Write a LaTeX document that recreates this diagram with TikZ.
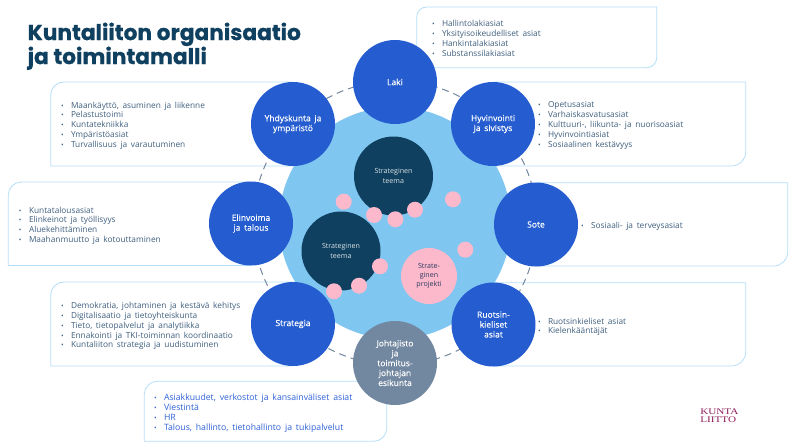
\documentclass[tikz,border=0pt]{standalone}
\usepackage{fontspec}
\setmainfont{Open Sans}[WordSpace=1.7]
\newfontfamily\mediumfont{Open Sans}[WordSpace=1.7,FakeBold=0.25]
\newfontfamily\titlefont{Poppins}[BoldFeatures={FakeBold=0.6}]
\newfontfamily\logofont{Liberation Serif}
\definecolor{inkblue}{HTML}{3F5F7E}
\definecolor{listblue}{HTML}{2F62D8}
\definecolor{roundblue}{HTML}{255DD0}
\definecolor{skyblue}{HTML}{7FC6F0}
\definecolor{frameblue}{HTML}{B5DFF9}
\definecolor{navy}{HTML}{10405F}
\definecolor{rosepink}{HTML}{FDB9CC}
\definecolor{slategrey}{HTML}{7287A0}
\definecolor{plum}{HTML}{8E1B5A}
\newcommand{\li}[1]{\makebox[10.8pt][l]{\hspace{0.8pt}\scriptsize\textbullet}#1\\}
\tikzset{
  unit/.style={circle,fill=roundblue,minimum size=84pt,inner sep=0pt,align=center,text=white,font=\mediumfont\fontsize{8.5}{9.9}\selectfont},
  theme/.style={circle,fill=navy,minimum size=79pt,inner sep=0pt,align=center,text=white!85!navy,font=\fontsize{7.1}{9.2}\selectfont},
  dot/.style={circle,fill=rosepink,minimum size=16pt,inner sep=0pt},
  frame/.style={draw=frameblue,line width=0.8pt,fill=white},
  duties/.style={anchor=north west,inner sep=0pt,align=left,text=inkblue,font=\fontsize{8.3}{9.85}\selectfont},
}
\begin{document}
\begin{tikzpicture}[x=1pt,y=-1pt]
	\useasboundingbox (0,0) rectangle (790,444);
	\fill[white] (0,0) rectangle (790,444);
	\node[anchor=north west,inner sep=0pt,align=left,text=navy,font=\titlefont\bfseries\fontsize{21.7}{24}\selectfont] (title) at (27.5,22.5) {Kuntaliiton organisaatio\\ja toimintamalli};
	% frames behind the circles
	\draw[frame] (416.7,40) [rounded corners=10pt] -- (416.7,7) [sharp corners] -- (656.7,7) [rounded corners=10pt] -- (656.7,67.7) [sharp corners] -- (416.7,67.7) -- cycle;
	\draw[frame] (493,82) -- (745.7,82) [rounded corners=14pt] -- (745.7,166) [sharp corners] -- (493,166) -- cycle;
	\draw[frame] (536,182.7) -- (787.7,182.7) [rounded corners=14pt] -- (787.7,266) [sharp corners] -- (536,266) -- cycle;
	\draw[frame] (493,282.7) -- (745.7,282.7) [rounded corners=14pt] -- (745.7,366) [sharp corners] -- (493,366) -- cycle;
	\draw[frame] (293,82) [rounded corners=13pt] -- (50.7,82) [sharp corners] -- (50.7,166) -- (293,166) -- cycle;
	\draw[frame] (251,182) [rounded corners=13pt] -- (8.3,182) [sharp corners] -- (8.3,265.5) -- (251,265.5) -- cycle;
	\draw[frame] (293,282) [rounded corners=13pt] -- (50.7,282) [sharp corners] -- (50.7,366) -- (293,366) -- cycle;
	\draw[frame] (386.7,400) -- (386.7,381.3) [rounded corners=13pt] -- (144.3,381.3) [sharp corners] -- (144.3,441.3) [rounded corners=13pt] -- (386.7,441.3) [sharp corners] -- cycle;
	% ring and inner disc
	\node[circle,draw=slategrey,dash pattern=on 7pt off 5pt,line width=1pt,minimum size=284pt,inner sep=0pt] (ring) at (395,223) {};
	\node[circle,fill=skyblue,minimum size=232pt,inner sep=0pt] (disc) at (395,223) {};
	% inner circles
	\node[theme] (themeone) at (393.5,176) {Strateginen\\teema};
	\node[theme] (themetwo) at (341,251) {Strateginen\\teema};
	\node[circle,fill=rosepink,minimum size=56pt,inner sep=0pt,align=center,text=navy!80!plum,font=\fontsize{7.1}{8.9}\selectfont] (project) at (429,276) {Strate-\\ginen\\projekti};
	\foreach \name/\x/\y in {a/343.7/201.7,b/374/215,c/395.3/219.3,d/415/209.7,e/453/199.3,f/380/266.3,g/359/285.7,h/334/291.3,i/465.3/249.7}
		\node[dot] (dot\name) at (\x,\y) {};
	% the eight units
	\node[unit] (laki) at (395,82) {Laki};
	\node[unit] (yhdyskunta) at (293,124) {Yhdyskunta ja\\ympäristö};
	\node[unit] (hyvinvointi) at (493,124) {Hyvinvointi\\ja sivistys};
	\node[unit] (elinvoima) at (251,223.5) {Elinvoima\\ja talous};
	\node[unit] (sote) at (536,224.5) {Sote};
	\node[unit] (strategia) at (293,324) {Strategia};
	\node[unit] (ruotsi) at (493.5,324.5) {Ruotsin-\\kieliset\\asiat};
	\node[unit,fill=slategrey] (johto) at (395,363) {Johtajisto\\ja\\toimitus-\\johtajan\\esikunta};
	% duty lists
	\node[duties] (lakilist) at (431,20) {\li{Hallintolakiasiat}\li{Yksityisoikeudelliset asiat}\li{Hankintalakiasiat}\li{Substanssilakiasiat}};
	\node[duties] (hyvlist) at (537,101.5) {\li{Opetusasiat}\li{Varhaiskasvatusasiat}\li{Kulttuuri-, liikunta- ja nuorisoasiat}\li{Hyvinvointiasiat}\li{Sosiaalinen kestävyys}};
	\node[duties] (sotelist) at (580,222) {\li{Sosiaali- ja terveysasiat}};
	\node[duties] (ruotsilist) at (537,317.5) {\li{Ruotsinkieliset asiat}\li{Kielenkääntäjät}};
	\node[duties] (yhdlist) at (60,101.5) {\li{Maankäyttö, asuminen ja liikenne}\li{Pelastustoimi}\li{Kuntatekniikka}\li{Ympäristöasiat}\li{Turvallisuus ja varautuminen}};
	\node[duties] (elilist) at (18,206.5) {\li{Kuntatalousasiat}\li{Elinkeinot ja työllisyys}\li{Aluekehittäminen}\li{Maahanmuutto ja kotouttaminen}};
	\node[duties] (stratlist) at (60,302) {\li{Demokratia, johtaminen ja kestävä kehitys}\li{Digitalisaatio ja tietoyhteiskunta}\li{Tieto, tietopalvelut ja analytiikka}\li{Ennakointi ja TKI-toiminnan koordinaatio}\li{Kuntaliiton strategia ja uudistuminen}};
	\node[duties,text=listblue,font=\fontsize{8.7}{9.85}\selectfont] (johtolist) at (153,394) {\li{Asiakkuudet, verkostot ja kansainväliset asiat}\li{Viestintä}\li{HR}\li{Talous, hallinto, tietohallinto ja tukipalvelut}};
	% logo
	\node[anchor=north west,inner sep=0pt,align=left,text=plum,xscale=1.3,font=\logofont\fontsize{8.6}{7.4}\selectfont] (logo) at (700,409) {KUNTA\\LIITTO};
\end{tikzpicture}
\end{document}
